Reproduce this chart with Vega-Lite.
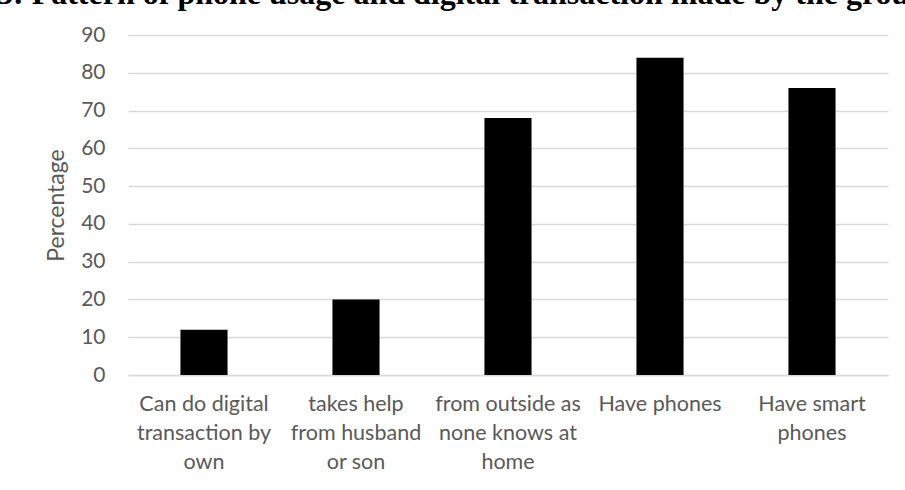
{
  "$schema": "https://vega.github.io/schema/vega-lite/v6.json",
  "autosize": {"type": "none"},
  "width": 760,
  "height": 340,
  "padding": {"left": 128, "top": 35, "right": 17, "bottom": 115},
  "background": "white",
  "title": {
    "text": "3: Pattern of phone usage and digital transaction made by the group",
    "anchor": "start",
    "frame": "group",
    "orient": "top",
    "baseline": "alphabetic",
    "font": "Liberation Serif",
    "fontSize": 32,
    "fontWeight": "bold",
    "color": "black",
    "offset": 0,
    "dx": -131,
    "dy": 12
  },
  "data": {
    "values": [
      {"group": "Can do digital\ntransaction by\nown", "percentage": 12},
      {"group": "takes help\nfrom husband\nor son", "percentage": 20},
      {"group": "from outside as\nnone knows at\nhome", "percentage": 68},
      {"group": "Have phones", "percentage": 84},
      {"group": "Have smart\nphones", "percentage": 76}
    ]
  },
  "mark": {"type": "bar", "color": "black"},
  "encoding": {
    "x": {
      "field": "group",
      "type": "nominal",
      "sort": null,
      "scale": {"paddingInner": 0.69, "paddingOuter": 0.345},
      "axis": {
        "title": null,
        "labelAngle": 0,
        "labelExpr": "split(datum.value, '\\n')",
        "labelFont": "Lato",
        "labelFontSize": 21.5,
        "labelColor": "#595959",
        "labelLineHeight": 29,
        "labelPadding": 18,
        "labelLimit": 220,
        "labelOverlap": false,
        "ticks": false,
        "domain": true,
        "domainColor": "#d9d9d9",
        "domainWidth": 1.5
      }
    },
    "y": {
      "field": "percentage",
      "type": "quantitative",
      "scale": {"domain": [0, 90], "nice": false},
      "axis": {
        "title": "Percentage",
        "values": [0, 10, 20, 30, 40, 50, 60, 70, 80, 90],
        "titleFont": "Lato",
        "titleFontSize": 23,
        "titleFontWeight": "normal",
        "titleColor": "#595959",
        "titlePadding": 12,
        "labelFont": "Lato",
        "labelFontSize": 21,
        "labelColor": "#595959",
        "labelPadding": 23,
        "ticks": false,
        "domain": false,
        "grid": true,
        "gridColor": "#d9d9d9",
        "gridWidth": 1.5
      }
    }
  },
  "config": {
    "view": {"stroke": null}
  }
}
